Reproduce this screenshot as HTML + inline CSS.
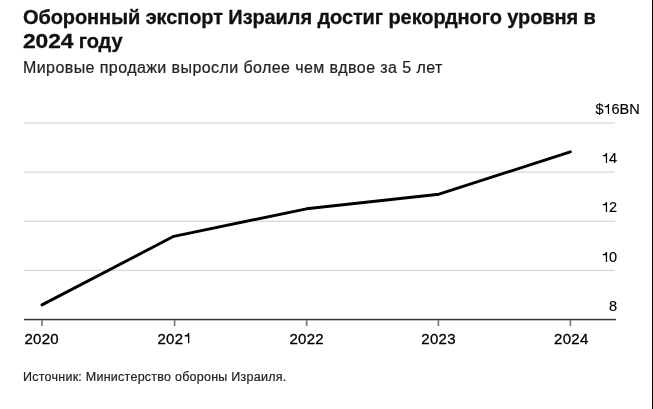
<!DOCTYPE html>
<html><head><meta charset="utf-8">
<style>
html,body{margin:0;padding:0;background:#fff;}
body{will-change:transform;width:653px;height:409px;position:relative;overflow:hidden;font-family:"Liberation Sans",sans-serif;color:#000;}
.t{position:absolute;white-space:nowrap;}
.one{display:inline-block;width:0.556em;height:0.688em;vertical-align:baseline;fill:currentColor;overflow:visible;}
#title{-webkit-text-stroke:0.3px #111;left:23px;top:5px;font-size:20px;letter-spacing:-0.1px;font-weight:bold;line-height:24px;color:#111;}
#sub{-webkit-text-stroke:0.2px #222;left:23px;top:58.5px;font-size:16px;letter-spacing:0.42px;line-height:18px;color:#222;}
.yl{position:absolute;-webkit-text-stroke:0.15px #000;font-size:14.5px;line-height:14px;color:#000;text-align:right;width:40px;}
.xl{position:absolute;-webkit-text-stroke:0.3px #000;font-size:15px;letter-spacing:0.3px;line-height:14px;color:#000;text-align:center;width:60px;}
#src{-webkit-text-stroke:0.2px #222;left:23px;top:369.5px;font-size:12.5px;letter-spacing:0.25px;line-height:14px;color:#222;}
#edge{position:absolute;right:0;top:0;width:1px;height:409px;background:#000;}
</style></head><body>
<div class="t" id="title">Оборонный экспорт Израиля достиг рекордного уровня в<br><span style="display:inline-block;transform:scaleX(1.14);transform-origin:0 0;margin-right:6.2px">2024</span> году</div>
<div class="t" id="sub">Мировые продажи выросли более чем вдвое за 5 лет</div>
<svg width="653" height="409" style="position:absolute;left:0;top:0">
  <g fill="#dadada">
    <rect x="24" y="122.4" width="591" height="1.3"/>
    <rect x="24" y="171.5" width="591" height="1.3"/>
    <rect x="24" y="220.7" width="591" height="1.3"/>
    <rect x="24" y="269.8" width="591" height="1.3"/>
  </g>
  <rect x="24" y="318.8" width="592" height="1.5" fill="#333"/>
  <g fill="#777">
    <rect x="41.2" y="320" width="1.6" height="6"/>
    <rect x="173.8" y="320" width="1.6" height="6"/>
    <rect x="305.9" y="320" width="1.6" height="6"/>
    <rect x="437.6" y="320" width="1.6" height="6"/>
    <rect x="569.6" y="320" width="1.6" height="6"/>
  </g>
  <polyline points="42,304.9 173.8,236.3 306.5,208.8 439,194.2 570.3,151.8" fill="none" stroke="#000" stroke-width="2.9" stroke-linecap="round" stroke-linejoin="round"/>
</svg>
<div class="t yl" style="left:579.6px;top:101.5px"><span style="position:relative">$<svg class="one" viewBox="0 0 556 688"><path d="M335 688H420V8H350C336 85 265 148 110 158V228H335Z"/></svg>6<span style="position:absolute;left:100%">BN</span></span></div>
<div class="t yl" style="left:577px;top:151px"><svg class="one" viewBox="0 0 556 688"><path d="M335 688H420V8H350C336 85 265 148 110 158V228H335Z"/></svg>4</div>
<div class="t yl" style="left:577px;top:200px"><svg class="one" viewBox="0 0 556 688"><path d="M335 688H420V8H350C336 85 265 148 110 158V228H335Z"/></svg>2</div>
<div class="t yl" style="left:577px;top:250px"><svg class="one" viewBox="0 0 556 688"><path d="M335 688H420V8H350C336 85 265 148 110 158V228H335Z"/></svg>0</div>
<div class="t yl" style="left:577px;top:299px">8</div>
<div class="t xl" style="left:11.7px;top:331.5px">2020</div>
<div class="t xl" style="left:144.6px;top:331.5px">202<svg class="one" viewBox="0 0 556 688"><path d="M335 688H420V8H350C336 85 265 148 110 158V228H335Z"/></svg></div>
<div class="t xl" style="left:276.7px;top:331.5px">2022</div>
<div class="t xl" style="left:408.6px;top:331.5px">2023</div>
<div class="t xl" style="left:541.3px;top:331.5px">2024</div>
<div class="t" id="src">Источник: Министерство обороны Израиля.</div>
<div id="edge"></div>
</body></html>
